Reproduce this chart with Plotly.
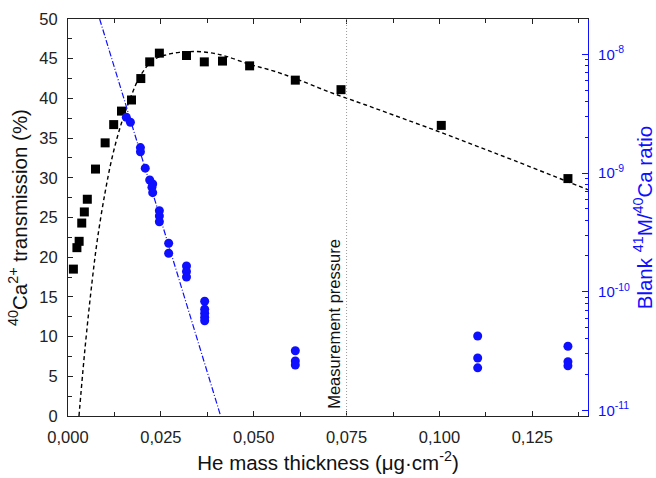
import plotly.graph_objects as go

# 40Ca2+ transmission through the He stripper (left axis, %)
trans_x = [0.00145, 0.0024, 0.0030, 0.0037, 0.0044, 0.0052, 0.0074, 0.0100, 0.0123,
           0.0144, 0.0171, 0.0196, 0.0220, 0.0246, 0.0319, 0.0367, 0.0416, 0.0489,
           0.0612, 0.0735, 0.1005, 0.1346]
trans_y = [18.5, 21.2, 22.0, 24.3, 25.7, 27.3, 31.1, 34.4, 36.7,
           38.4, 39.8, 42.5, 44.6, 45.7, 45.4, 44.6, 44.7, 44.1,
           42.3, 41.1, 36.6, 29.9]

# dashed fit through the transmission data
fit_x = [0.00296, 0.0040, 0.0050, 0.0065, 0.0079, 0.0100, 0.0120, 0.0144, 0.0170,
         0.0193, 0.0228, 0.0265, 0.0300, 0.0345, 0.0390, 0.0426, 0.0488, 0.0550,
         0.0612, 0.0704, 0.0800, 0.0900, 0.1005, 0.1100, 0.1200, 0.1346, 0.1400]
fit_y = [0.0, 5.6, 10.5, 17.0, 22.2, 28.2, 32.8, 36.9, 40.3,
         42.7, 44.8, 45.5, 45.8, 45.9, 45.7, 45.3, 44.3, 43.5,
         42.5, 40.8, 39.2, 37.5, 35.7, 34.0, 32.2, 29.5, 28.5]

# blank 41M/40Ca ratio (right axis, log)
blank_x = [0.0157, 0.0168, 0.0195, 0.0195, 0.0208, 0.0220, 0.0228, 0.0226, 0.0228,
           0.0246, 0.0246, 0.0246, 0.0271, 0.0271, 0.0319, 0.0319, 0.0319,
           0.0368, 0.0368, 0.0368, 0.0368, 0.0368, 0.0612, 0.0612, 0.0612,
           0.1103, 0.1103, 0.1103, 0.1346, 0.1346, 0.1346]
blank_y = [2.95e-9, 2.68e-9, 1.64e-9, 1.51e-9, 1.10e-9, 8.75e-10, 8.09e-10, 7.59e-10, 6.84e-10,
           4.82e-10, 4.35e-10, 3.89e-10, 2.56e-10, 2.11e-10, 1.65e-10, 1.48e-10, 1.33e-10,
           8.30e-11, 7.11e-11, 6.58e-11, 6.09e-11, 5.69e-11, 3.18e-11, 2.61e-11, 2.41e-11,
           4.23e-11, 2.76e-11, 2.28e-11, 3.47e-11, 2.57e-11, 2.37e-11]

# exponential trend of the blank ratio
trend_x = [0.00852, 0.0411]
trend_y = [1.99e-8, 8.95e-12]

measurement_x = 0.075

x_ticks = [0.0, 0.025, 0.05, 0.075, 0.1, 0.125]
right_ticks = [1e-11, 1e-10, 1e-9, 1e-8]
right_ticktext = ["10<sup>-11</sup>", "10<sup>-10</sup>", "10<sup>-9</sup>", "10<sup>-8</sup>"]
right_minor = [k * 10.0 ** e for e in range(-12, -7) for k in range(2, 10)]

BLUE = "#0f0fff"
AXIS = "#222222"
FONT = "Liberation Sans, Arial, sans-serif"

fig = go.Figure()

fig.add_trace(go.Scatter(
    x=fit_x, y=fit_y, mode="lines", line=dict(color="black", width=1.4, dash="4px,3px"),
    line_shape="spline", showlegend=False, hoverinfo="skip"))

fig.add_trace(go.Scatter(
    x=trans_x, y=trans_y, mode="markers",
    marker=dict(symbol="square", size=9, color="black"), showlegend=False))

fig.add_trace(go.Scatter(
    x=trend_x, y=trend_y, mode="lines", yaxis="y2",
    line=dict(color=BLUE, width=1.2, dash="6px,2px,1px,2px"), showlegend=False))

fig.add_trace(go.Scatter(
    x=blank_x, y=blank_y, mode="markers", yaxis="y2",
    marker=dict(symbol="circle", size=9, color=BLUE), showlegend=False))

fig.add_shape(type="line", x0=measurement_x, x1=measurement_x, xref="x",
              y0=0, y1=1, yref="paper",
              line=dict(color="#9a9a9a", width=1, dash="1px,2px"))

fig.add_annotation(x=measurement_x, xref="x", xanchor="right", xshift=-1,
                   y=0.012, yref="paper", yanchor="bottom",
                   text="Measurement pressure", textangle=-90, showarrow=False,
                   font=dict(family=FONT, size=16.5, color="#111111"))

fig.update_layout(
    width=656, height=478, autosize=False,
    margin=dict(l=68, r=68, t=19, b=62, autoexpand=False),
    paper_bgcolor="white", plot_bgcolor="white",
    separators=",.",
    font=dict(family=FONT, color=AXIS),
    xaxis=dict(
        range=[0, 0.14], tickvals=x_ticks, tickformat=".3f", automargin=False,
        showline=True, linecolor=AXIS, linewidth=1.2, mirror="ticks",
        ticks="inside", ticklen=5, tickcolor=AXIS,
        minor=dict(dtick=0.0125, ticks="inside", ticklen=4, tickcolor=AXIS, showgrid=False),
        showgrid=False, zeroline=False,
        tickfont=dict(size=16.5, color=AXIS), ticklabelstandoff=6,
        title=dict(text="He mass thickness (μg·cm<sup>-2</sup>)",
                   font=dict(size=20.5, color="#111111"), standoff=10),
    ),
    yaxis=dict(
        range=[0, 50], dtick=5, automargin=False,
        showline=True, linecolor=AXIS, linewidth=1.2,
        ticks="inside", ticklen=5, tickcolor=AXIS,
        minor=dict(dtick=2.5, ticks="inside", ticklen=4, tickcolor=AXIS, showgrid=False),
        showgrid=False, zeroline=False,
        tickfont=dict(size=16.5, color=AXIS), ticklabelstandoff=6,
        title=dict(text="<sup>40</sup>Ca<sup>2+</sup> transmission (%)",
                   font=dict(size=20.5, color="#111111"), standoff=6),
    ),
    yaxis2=dict(
        type="log", range=[-11.048, -7.701], overlaying="y", side="right", automargin=False,
        tickvals=right_ticks, ticktext=right_ticktext,
        showline=True, linecolor=BLUE, linewidth=1.2,
        ticks="inside", ticklen=6, tickcolor=BLUE,
        minor=dict(tickvals=right_minor, ticks="inside", ticklen=3, tickcolor=BLUE, showgrid=False),
        showgrid=False, zeroline=False,
        tickfont=dict(size=15, color=BLUE), ticklabelstandoff=6,
        title=dict(text="Blank <sup>41</sup>M/<sup>40</sup>Ca ratio",
                   font=dict(size=20.5, color=BLUE), standoff=18),
    ),
)

fig.write_html("out.html")
